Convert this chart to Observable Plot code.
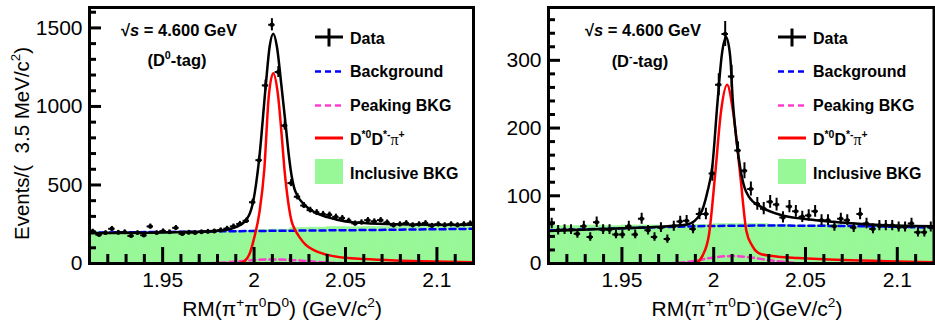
<!DOCTYPE html>
<html><head><meta charset="utf-8">
<script src="https://cdn.jsdelivr.net/npm/d3@7"></script>
<script src="https://cdn.jsdelivr.net/npm/@observablehq/plot@0.6"></script>
<style>
body{margin:0;background:#fff;}
#wrap{position:relative;width:935px;height:323px;overflow:hidden;}
#wrap svg{position:absolute;top:0;}
</style></head><body><div id="wrap"></div>
<script>
// ---------- histogram structure ----------
const binStart = 1.91, binWidth = 0.0035;
const xDomain = [1.91, 2.12];
const xMajorTicks = [1.95, 2.0, 2.05, 2.1];
const xMinorTicks = [1.91,1.92,1.93,1.94,1.96,1.97,1.98,1.99,2.01,2.02,2.03,2.04,2.06,2.07,2.08,2.09,2.11];
const inclEdges = [1.91,1.92,1.93,1.94,1.95,1.96,1.97,1.98,1.99,2.00,2.01,2.02,2.03,2.04,2.05,2.06,2.07,2.08,2.09,2.10,2.11,2.12];

// ---------- left panel (D0-tag) ----------
const leftCounts = [204,183,195,221,197,200,176,195,180,236,195,206,200,227,189,197,195,200,203,205,
  212,222,236,252,272,390,658,1134,1520,1219,878,512,425,369,340,325,314,310,297,289,
  272,255,262,276,268,276,261,244,250,257,244,250,257,240,250,244,250,244,250,255];
const leftTotal = [[1.91,193],[1.94,196],[1.96,200],[1.975,206],[1.984,214],[1.99,232],[1.995,268],[1.9996,400],
  [2.0027,656],[2.0064,1134],[2.0085,1380],[2.0105,1463],[2.0125,1380],[2.0148,1150],[2.0173,879],[2.019,690],
  [2.0205,560],[2.022,478],[2.024,425],[2.027,380],[2.033,327],[2.04,295],[2.05,268],[2.06,258],[2.077,250],[2.1,247],[2.12,246]];
const leftSignal = [[1.91,0],[1.985,0],[1.9915,2],[1.995,18],[1.9975,60],[2.0,160],[2.003,330],[2.0056,600],[2.008,1060],
  [2.0105,1212],[2.013,1080],[2.0155,760],[2.0166,600],[2.018,450],[2.0205,270],[2.0224,215],[2.025,165],[2.028,122],
  [2.033,83],[2.04,55],[2.05,36],[2.06,28],[2.077,19],[2.1,12],[2.12,8]];
const leftBackground = [[1.91,197],[1.96,202],[2.0,207],[2.06,213],[2.12,221]];
const leftPeaking = [[1.91,0],[1.96,0],[1.97,1],[1.98,4],[1.99,12],[2.0,22],[2.01,26],[2.02,23],[2.03,14],[2.04,6],[2.05,2],[2.06,0],[2.12,0]];
const leftInclusive = [200,199,201,198,200,201,200,202,206,212,215,225,228,231,230,232,231,233,232,234,233];
const leftYMajor = [0,500,1000,1500];
const leftYMinor = [100,200,300,400,600,700,800,900,1100,1200,1300,1400,1600];

// ---------- right panel (D- tag) ----------
const rightCounts = [59,49,50,50,44,55,39,61,50,50,43,43,55,43,66,49,39,53,36,55,
  62,63,51,73,73,133,264,339,276,167,137,110,88,81,91,87,68,84,77,69,
  71,77,64,64,55,66,64,53,73,59,51,56,56,56,54,54,59,46,46,54];
const rightTotal = [[1.91,48],[1.95,52],[1.975,55],[1.986,58],[1.9929,74],[1.9965,105],[1.9993,145],[2.002,236],
  [2.0045,310],[2.0068,334],[2.009,305],[2.0104,240],[2.0125,180],[2.0144,142],[2.0168,112],[2.0193,98],[2.0256,84],
  [2.0375,71],[2.0557,64],[2.083,58],[2.12,55]];
const rightSignal = [[1.91,0],[1.988,0],[1.991,2],[1.994,12],[1.9975,44],[2.0008,132],[2.004,225],[2.0073,264],
  [2.0105,225],[2.0144,132],[2.0178,48],[2.021,26],[2.0256,14],[2.035,10],[2.046,8],[2.07,5],[2.1,3],[2.12,2]];
const rightBackground = [[1.91,49],[1.95,52],[1.99,55],[2.03,56],[2.08,55],[2.12,53]];
const rightPeaking = [[1.91,0],[1.97,0],[1.98,1],[1.99,4],[2.0,9],[2.01,11],[2.02,9],[2.03,5],[2.04,2],[2.05,0],[2.12,0]];
const rightInclusive = [55,55,56,55,56,56,55,56,57,58,58,58,57,56,56,57,56,56,55,56,55];
const rightYMajor = [0,100,200,300];
const rightYMinor = [20,40,60,80,120,140,160,180,220,240,260,280,320,340,360];

// ---------- styles ----------
const GREEN = "#98f898", BLUE = "#0000ff", MAGENTA = "#ff3ccf", RED = "#ff0000";
const FONT = "'Liberation Sans', Arial, Helvetica, sans-serif";
const H = 323, MT = 7, MB = 60;
const TICK_MAJOR = 16, TICK_MINOR = 9, YTICK_MAJOR = 12, YTICK_MINOR = 7;

function toPts(arr){ return arr.map(([x,y]) => ({x, y})); }

function panel(cfg){
  const data = cfg.counts.map((v,i) => {
    const c = binStart + binWidth*(i+0.5);
    return {x:c, x1:c-binWidth/2, x2:c+binWidth/2, v, lo:v-Math.sqrt(v), hi:v+Math.sqrt(v)};
  });
  const incl = cfg.inclusive.map((v,i) => ({x1: inclEdges[i], x2: inclEdges[i+1], v}));
  const fh = H - MT - MB, fw = cfg.width - cfg.marginLeft - cfg.marginRight;
  const yPx = cfg.yMax / fh, xPx = (xDomain[1] - xDomain[0]) / fw;
  // tick segments (in data units of each scale)
  const xTicks = [...xMajorTicks.map(v => ({v, len: TICK_MAJOR})), ...xMinorTicks.map(v => ({v, len: TICK_MINOR}))]
    .map(d => ({x: d.v, y1: 0, y2: d.len * yPx}));
  const yTicks = [...cfg.yMajor.map(v => ({v, len: YTICK_MAJOR})), ...cfg.yMinor.map(v => ({v, len: YTICK_MINOR}))]
    .map(d => ({y: d.v, x1: xDomain[0], x2: xDomain[0] + d.len * xPx}));
  return Plot.plot({
    width: cfg.width, height: H,
    marginLeft: cfg.marginLeft, marginRight: cfg.marginRight, marginTop: MT, marginBottom: MB,
    style: {fontFamily: FONT, fontSize: "21px", color: "#000", background: "transparent"},
    x: {domain: xDomain},
    y: {domain: [0, cfg.yMax]},
    marks: [
      Plot.rectY(incl, {x1:"x1", x2:"x2", y1:0, y2:"v", fill: GREEN, stroke: GREEN, strokeWidth: 0.8, inset: 0, clip: true}),
      Plot.line(toPts(cfg.background), {x:"x", y:"y", stroke: BLUE, strokeWidth: 2.5, strokeDasharray: "6,4", curve: "monotone-x", clip: true}),
      Plot.line(toPts(cfg.peaking), {x:"x", y:"y", stroke: MAGENTA, strokeWidth: 2.5, strokeDasharray: "6,4", curve: "monotone-x", clip: true}),
      Plot.line(toPts(cfg.signal), {x:"x", y:"y", stroke: RED, strokeWidth: 2.5, curve: "monotone-x", clip: true}),
      Plot.line(toPts(cfg.total), {x:"x", y:"y", stroke: "#000", strokeWidth: 2.5, curve: "monotone-x", clip: true}),
      Plot.ruleX(data, {x:"x", y1:"lo", y2:"hi", stroke:"#000", strokeWidth: 2, clip: true}),
      Plot.ruleY(data, {y:"v", x1:"x1", x2:"x2", stroke:"#000", strokeWidth: 2, clip: true}),
      Plot.dot(data, {x:"x", y:"v", r: 2.2, fill:"#000", clip: true}),
      // inward ROOT-style ticks, using the same field-based rule marks as the error bars
      Plot.ruleX(xTicks, {x:"x", y1:"y1", y2:"y2", stroke:"#000", strokeWidth: 3}),
      Plot.ruleY(yTicks, {y:"y", x1:"x1", x2:"x2", stroke:"#000", strokeWidth: 3}),
      Plot.axisX({ticks: xMajorTicks, tickSize: 0, tickPadding: 9, fontSize: 21, tickFormat: d => String(d), label: null}),
      Plot.axisY({ticks: cfg.yMajor, tickSize: 0, tickPadding: 7, fontSize: 21, tickFormat: d => String(d), label: null}),
      Plot.frame({stroke:"#000", strokeWidth: 3})
    ]
  });
}

// rich text helper: parts = [text, kind] kind: null | "sup" | "it" | "pi"
function rich(sel, x, y, parts, size, opts = {}){
  const t = sel.append("text").attr("x", x).attr("y", y)
    .attr("font-family", FONT).attr("font-size", size).attr("fill", "#000")
    .attr("text-anchor", opts.anchor || "start")
    .style("white-space", "pre");
  t.attr("font-weight", opts.bold ? "bold" : "normal");
  if (opts.transform) t.attr("transform", opts.transform);
  const shift = size * 0.42;
  let up = false;
  for (const [txt, kind] of parts){
    const sp = t.append("tspan").text(txt);
    if (kind === "sup"){
      sp.attr("font-size", size * 0.65);
      if (!up){ sp.attr("dy", -shift); up = true; }
    } else {
      if (up){ sp.attr("dy", shift); up = false; }
      if (kind === "it") sp.attr("font-style", "italic");
      if (kind === "pi") sp.attr("font-family", "'Liberation Serif', 'DejaVu Serif', serif").attr("font-weight", "normal");
    }
  }
  return t;
}

function legend(svg, x0, sym0, sym1){
  const g = d3.select(svg).append("g");
  const mid = (sym0 + sym1) / 2;
  g.append("line").attr("x1", sym0).attr("x2", sym1).attr("y1", 37).attr("y2", 37).attr("stroke", "#000").attr("stroke-width", 3);
  g.append("line").attr("x1", mid).attr("x2", mid).attr("y1", 28.5).attr("y2", 46.5).attr("stroke", "#000").attr("stroke-width", 3);
  rich(g, x0, 43.5, [["Data"]], 16, {bold: true});
  g.append("line").attr("x1", sym0).attr("x2", sym1).attr("y1", 71.5).attr("y2", 71.5).attr("stroke", BLUE).attr("stroke-width", 2.5).attr("stroke-dasharray", "6,4");
  rich(g, x0, 77, [["Background"]], 16, {bold: true});
  g.append("line").attr("x1", sym0).attr("x2", sym1).attr("y1", 105.5).attr("y2", 105.5).attr("stroke", MAGENTA).attr("stroke-width", 2.5).attr("stroke-dasharray", "6,4");
  rich(g, x0, 111, [["Peaking BKG"]], 16, {bold: true});
  g.append("line").attr("x1", sym0).attr("x2", sym1).attr("y1", 138).attr("y2", 138).attr("stroke", RED).attr("stroke-width", 3);
  rich(g, x0, 145, [["D"],["*0","sup"],["D"],["*-","sup"],["π","pi"],["+","sup"]], 16, {bold: true});
  g.append("rect").attr("x", sym0).attr("y", 159).attr("width", sym1 - sym0).attr("height", 25).attr("fill", GREEN);
  rich(g, x0, 178.5, [["Inclusive BKG"]], 16, {bold: true});
}

const wrap = document.getElementById("wrap");

// left
const leftCfg = {counts: leftCounts, total: leftTotal, signal: leftSignal, background: leftBackground,
  peaking: leftPeaking, inclusive: leftInclusive, yMax: 1630, yMajor: leftYMajor, yMinor: leftYMinor,
  width: 476, marginLeft: 89, marginRight: 3};
const leftSvg = panel(leftCfg);
leftSvg.style.left = "0px";
wrap.appendChild(leftSvg);
{
  const s = d3.select(leftSvg);
  rich(s, 121, 35.5, [["√"],["s","it"],[" = 4.600 GeV"]], 16.5, {bold: true});
  rich(s, 177, 66, [["(D"],["0","sup"],["-tag)"]], 16.5, {bold: true, anchor: "middle"});
  rich(s, 282, 316, [["RM(π"],["+","sup"],["π"],["0","sup"],["D"],["0","sup"],[") (GeV/c"],["2","sup"],[")"]], 21, {anchor: "middle"});
  rich(s, 0, 0, [["Events/(  3.5 MeV/c"],["2","sup"],[")"]], 20.5, {anchor: "middle", transform: "translate(29,143.5) rotate(-90)"});
  legend(leftSvg, 350, 315, 343);
}

// right
const RX = 476;
const rightCfg = {counts: rightCounts, total: rightTotal, signal: rightSignal, background: rightBackground,
  peaking: rightPeaking, inclusive: rightInclusive, yMax: 378, yMajor: rightYMajor, yMinor: rightYMinor,
  width: 459, marginLeft: 72, marginRight: 1.5};
const rightSvg = panel(rightCfg);
rightSvg.style.left = RX + "px";
wrap.appendChild(rightSvg);
{
  const s = d3.select(rightSvg);
  rich(s, 585 - RX, 36, [["√"],["s","it"],[" = 4.600 GeV"]], 16.5, {bold: true});
  rich(s, 640 - RX, 67, [["(D"],["-","sup"],["-tag)"]], 16.5, {bold: true, anchor: "middle"});
  rich(s, 747 - RX, 316, [["RM(π"],["+","sup"],["π"],["0","sup"],["D"],["-","sup"],[")(GeV/c"],["2","sup"],[")"]], 21, {anchor: "middle"});
  legend(rightSvg, 813 - RX, 778 - RX, 806 - RX);
}
</script></body></html>
